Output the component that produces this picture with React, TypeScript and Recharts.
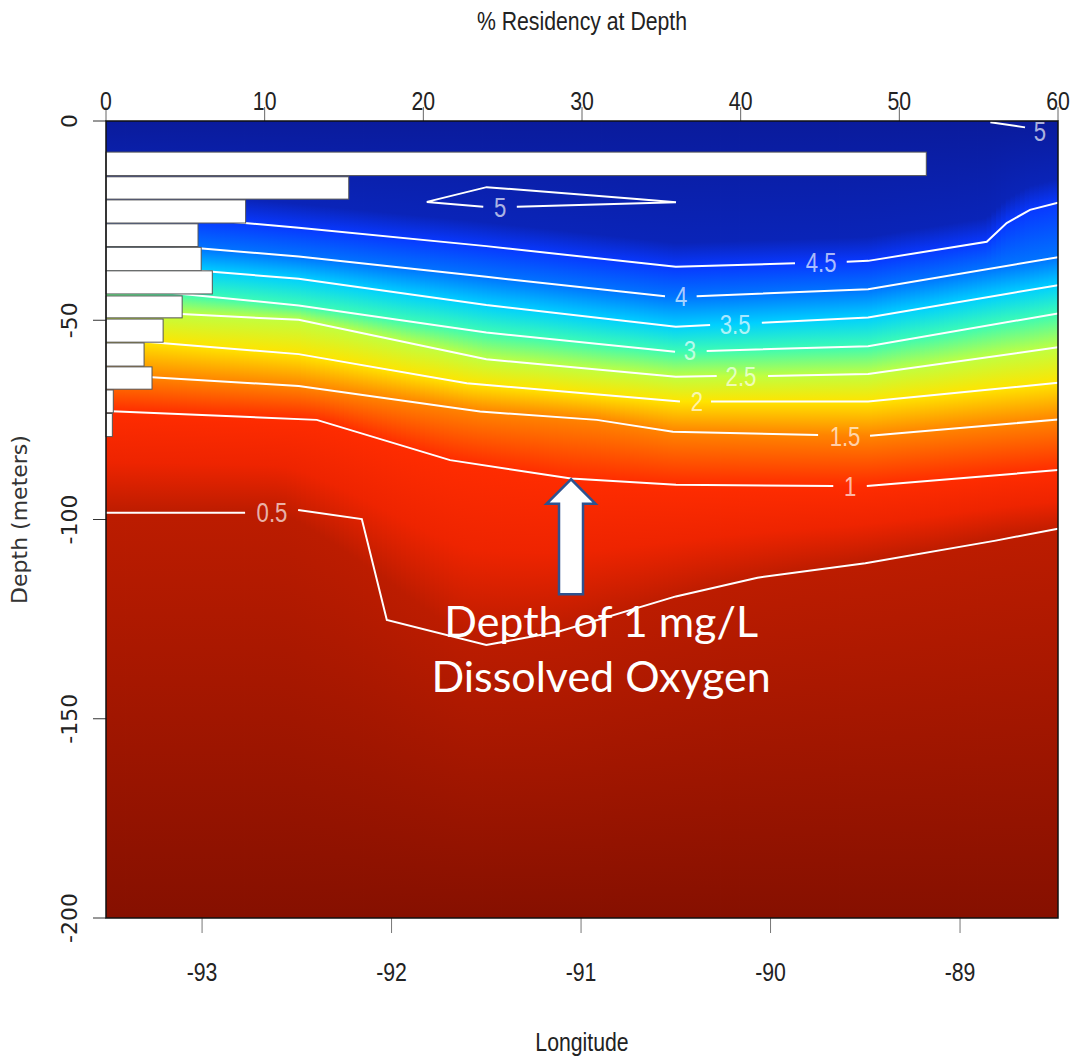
import React from 'react';
import { ComposedChart, XAxis, YAxis, Line, ReferenceArea, ReferenceDot, Label } from 'recharts';

type P = [number, number | null];

// ---------- axes ----------
const lonDomain: [number, number] = [-93.507, -88.483];
const depthDomain: [number, number] = [-200, 0];
const pctDomain: [number, number] = [0, 60];
const lonTicks = [-93, -92, -91, -90, -89];
const pctTicks = [0, 10, 20, 30, 40, 50, 60];
const depthTicks = [0, -50, -100, -150, -200];

// ---------- residency histogram (% time per depth bin) ----------
const residencyPct = [51.7, 15.3, 8.8, 5.8, 6.0, 6.7, 4.8, 3.6, 2.4, 2.9, 0.46, 0.4];
const binTop = [-7.8, -14.0, -19.8, -25.8, -31.7, -37.6, -43.9, -49.7, -55.7, -61.7, -67.5, -73.4];
const binBottom = [-13.7, -19.6, -25.6, -31.5, -37.6, -43.4, -49.4, -55.5, -61.5, -67.3, -73.2, -79.2];

// ---------- dissolved oxygen contours [longitude, depth]; null = label gap ----------
const contour5Loop: P[] = [[-91.339, -21.5], [-90.499, -20.4], [-90.706, -19.6], [-91.498, -16.6], [-91.814, -20.3], [-91.516, -21.5]];
const contour5Corner: P[] = [[-88.84, -0.3], [-88.657, -1.6]];
const contour45: P[] = [[-93.507, -22.5], [-92.49, -26.8], [-91.5, -31.4], [-90.5, -36.6], [-89.871, -35.7], [-89.73, null], [-89.598, -35.3], [-89.485, -35.1], [-88.859, -30.3], [-88.754, -25.6], [-88.631, -22.3], [-88.483, -20.5]];
const contour4: P[] = [[-93.507, -30.0], [-92.49, -34.0], [-91.5, -39.1], [-90.557, -44.0], [-90.47, null], [-90.39, -44.0], [-89.485, -42.2], [-88.483, -34.2]];
const contour35: P[] = [[-93.507, -35.7], [-92.49, -39.6], [-91.5, -46.2], [-90.5, -51.6], [-90.319, -51.2], [-90.18, null], [-90.046, -50.6], [-89.485, -49.3], [-88.483, -41.2]];
const contour3: P[] = [[-93.507, -41.5], [-92.49, -46.3], [-91.5, -53.1], [-90.504, -57.9], [-90.42, null], [-90.337, -57.7], [-89.485, -56.5], [-88.483, -48.3]];
const contour25: P[] = [[-93.507, -47.5], [-92.49, -49.9], [-91.5, -59.8], [-90.5, -64.2], [-90.284, -64.0], [-90.15, null], [-90.013, -64.0], [-89.485, -63.5], [-88.483, -56.8]];
const contour2: P[] = [[-93.507, -54.6], [-92.49, -58.5], [-91.603, -65.8], [-90.478, -70.4], [-90.39, null], [-90.314, -70.4], [-89.485, -70.4], [-88.483, -65.7]];
const contour15: P[] = [[-93.507, -63.6], [-92.49, -66.5], [-91.533, -72.9], [-90.917, -75.0], [-90.515, -78.0], [-89.749, -78.8], [-89.61, null], [-89.475, -79.0], [-88.483, -74.9]];
const contour1: P[] = [[-93.507, -72.8], [-92.395, -75.0], [-91.691, -85.1], [-91.053, -89.7], [-90.499, -91.3], [-89.669, -91.6], [-89.58, null], [-89.492, -91.6], [-88.483, -87.6]];
const contour05: P[] = [[-93.507, -98.3], [-92.773, -98.3], [-92.63, null], [-92.493, -97.6], [-92.157, -99.9], [-92.025, -125.2], [-91.5, -131.5], [-91.116, -128.1], [-90.5, -119.3], [-90.069, -114.6], [-89.5, -111.0], [-88.812, -105.3], [-88.483, -102.3]];

const contourLabels = [
  { lon: -91.427, depth: -21.6, text: '5' },
  { lon: -88.578, depth: -2.6, text: '5' },
  { lon: -89.733, depth: -35.4, text: '4.5' },
  { lon: -90.472, depth: -43.9, text: '4' },
  { lon: -90.187, depth: -50.9, text: '3.5' },
  { lon: -90.425, depth: -57.6, text: '3' },
  { lon: -90.156, depth: -64.1, text: '2.5' },
  { lon: -90.388, depth: -70.3, text: '2' },
  { lon: -89.607, depth: -79.0, text: '1.5' },
  { lon: -89.58, depth: -91.6, text: '1' },
  { lon: -92.631, depth: -98.2, text: '0.5' },
];

// colour of the field at each contour level (reversed "jet" palette)
const surfaceColor = '#0a1b9c';
const upperBlue = '#0a24b8';
const lowRed = '#ee2400';
const bottomColor = '#861000';
const levelFills: { pts: P[]; color: string; smooth: number }[] = [
  { pts: contour45, color: '#0838ff', smooth: 0 },
  { pts: contour4, color: '#0074ff', smooth: 0 },
  { pts: contour35, color: '#00d0ff', smooth: 0 },
  { pts: contour3, color: '#3cfcb4', smooth: 0 },
  { pts: contour25, color: '#c0ff40', smooth: 0 },
  { pts: contour2, color: '#ffe400', smooth: 0 },
  { pts: contour15, color: '#ff8400', smooth: 0 },
  { pts: contour1, color: '#ff2c00', smooth: 0.1 },
  { pts: contour05, color: '#bc1c00', smooth: 0.45 },
];

// annotation
const arrowTip = { lon: -91.053, depth: -89.9 };
const note = { lon: -90.894, depth: -129.5, lines: ['Depth of 1 mg/L', 'Dissolved Oxygen'] };

const HELV = "'Liberation Sans', Arial, sans-serif";
const DEJAVU = "'DejaVu Sans', Verdana, sans-serif";

const toData = (pts: P[]) => pts.map(([lon, depth]) => ({ lon, depth }));
const residencyData = residencyPct.map((v, i) => ({ pct: v, depth: binTop[i] }));

function depthAt(pts: P[], lon: number): number {
  const p = pts.filter((d) => d[1] !== null) as [number, number][];
  if (lon <= p[0][0]) return p[0][1];
  for (let i = 1; i < p.length; i++) {
    if (lon <= p[i][0]) {
      const t = (lon - p[i - 1][0]) / (p[i][0] - p[i - 1][0]);
      return p[i - 1][1] + t * (p[i][1] - p[i - 1][1]);
    }
  }
  return p[p.length - 1][1];
}
// rendering-only softening of the colour field across longitude
function smoothDepthAt(pts: P[], lon: number, w: number): number {
  if (w <= 0) return depthAt(pts, lon);
  let s = 0;
  const n = 21;
  for (let k = 0; k < n; k++) {
    const l = Math.max(lonDomain[0], Math.min(lonDomain[1], lon - w + (2 * w * k) / (n - 1)));
    s += depthAt(pts, l);
  }
  return s / n;
}

const clamp01 = (v: number) => Math.max(0, Math.min(1, v));

// background field drawn as narrow vertical strips (rendering resolution only)
const STRIPS = 200;
const strips = Array.from({ length: STRIPS }, (_, i) => {
  const span = lonDomain[1] - lonDomain[0];
  const a = Math.max(lonDomain[0], lonDomain[0] + (span * i) / STRIPS);
  const b = Math.min(lonDomain[1], lonDomain[0] + (span * (i + 1)) / STRIPS);
  const mid = (a + b) / 2;
  const d45 = depthAt(contour45, mid);
  const levelStops = levelFills.map((l) => ({ off: clamp01(-smoothDepthAt(l.pts, mid, l.smooth) / 200), color: l.color }));
  const d1 = levelStops[levelStops.length - 2].off;
  const d05 = levelStops[levelStops.length - 1].off;
  const stops = [
    { off: 0, color: surfaceColor },
    { off: clamp01((-d45 - 6) / 200), color: upperBlue },
    ...levelStops.slice(0, -1),
    { off: (d1 + d05) / 2, color: lowRed },
    levelStops[levelStops.length - 1],
    { off: 1, color: bottomColor },
  ];
  return { a, b, stops, last: i === STRIPS - 1 };
});

const makeStrip = (id: string, stops: { off: number; color: string }[], last: boolean) => (p: any) => (
  <g>
    <defs>
      <linearGradient id={id} x1="0" y1="0" x2="0" y2="1">
        {stops.map((s, k) => (
          <stop key={k} offset={s.off} stopColor={s.color} />
        ))}
      </linearGradient>
    </defs>
    <rect x={p.x} y={p.y} width={p.width + (last ? 0 : 0.9)} height={p.height} fill={`url(#${id})`} />
  </g>
);

// condensed-looking text (R / Helvetica output was horizontally squeezed)
const Narrow = ({ x, y, dy, size, fill, opacity, sx, children }: any) => (
  <text
    transform={`translate(${x} ${y}) scale(${sx ?? 0.85} 1)`}
    x={0}
    y={0}
    dy={dy ?? 0}
    textAnchor="middle"
    fontFamily={HELV}
    fontSize={size ?? 25}
    fill={fill ?? '#222'}
    fillOpacity={opacity ?? 1}
  >
    {children}
  </text>
);

const TopTick = (p: any) => <Narrow x={p.x} y={p.y} dy={3}>{p.payload.value}</Narrow>;
const BottomTick = (p: any) => <Narrow x={p.x} y={p.y} dy="0.72em">{p.payload.value}</Narrow>;
const LeftTick = (p: any) => (
  <text x={p.x} y={p.y} dy="0.36em" transform={`rotate(-90 ${p.x} ${p.y})`} textAnchor="middle" fontFamily={DEJAVU} fontSize={22} fill="#222">
    {p.payload.value}
  </text>
);

const ArrowShape = (p: any) => {
  const { cx, cy } = p;
  const pts = [[0, 0], [24.5, 24.5], [12, 24.5], [12, 115], [-12, 115], [-12, 24.5], [-24.5, 24.5]];
  return (
    <polygon
      points={pts.map(([dx, dy]) => `${cx + dx},${cy + dy}`).join(' ')}
      fill="#ffffff"
      stroke="#2f528f"
      strokeWidth={2.5}
    />
  );
};

const NoteShape = (p: any) => (
  <text x={p.cx} y={p.cy} textAnchor="middle" fontFamily="Lato, 'Open Sans', sans-serif" fontSize={43} fill="#ffffff">
    <tspan x={p.cx} dy="0">{note.lines[0]}</tspan>
    <tspan x={p.cx} dy="55">{note.lines[1]}</tspan>
  </text>
);

const contourLines: P[][] = [contour5Loop, contour5Corner, contour45, contour4, contour35, contour3, contour25, contour2, contour15, contour1, contour05];

export default function App() {
  return (
    <div style={{ position: 'absolute', left: 0, top: 0, width: 1073, height: 1060 }}>
      <ComposedChart width={1073} height={1060} margin={{ top: 0, right: 15, bottom: 0, left: 0 }}>
        <XAxis
          xAxisId="lon"
          type="number"
          dataKey="lon"
          domain={lonDomain}
          allowDataOverflow
          ticks={lonTicks}
          interval={0}
          orientation="bottom"
          height={142}
          tickSize={15}
          tickMargin={30}
          axisLine={false}
          tickLine={{ stroke: '#777', strokeWidth: 1 }}
          tick={<BottomTick />}
        >
          <Label
            content={(props: any) => {
              const vb = props.viewBox;
              return <Narrow x={vb.x + vb.width / 2} y={1051}>Longitude</Narrow>;
            }}
          />
        </XAxis>
        <XAxis
          xAxisId="pct"
          type="number"
          dataKey="pct"
          domain={pctDomain}
          allowDataOverflow
          ticks={pctTicks}
          interval={0}
          orientation="top"
          height={121}
          tickSize={14}
          tickMargin={0}
          axisLine={false}
          tickLine={{ stroke: '#666', strokeWidth: 1 }}
          tick={<TopTick />}
        >
          <Label
            content={(props: any) => {
              const vb = props.viewBox;
              return <Narrow x={vb.x + vb.width / 2} y={30}>% Residency at Depth</Narrow>;
            }}
          />
        </XAxis>
        <YAxis
          yAxisId="depth"
          type="number"
          domain={depthDomain}
          allowDataOverflow
          ticks={depthTicks}
          interval={0}
          width={106}
          tickSize={13}
          tickMargin={24}
          axisLine={false}
          tickLine={{ stroke: '#333', strokeWidth: 1 }}
          tick={<LeftTick />}
        >
          <Label
            content={(props: any) => {
              const vb = props.viewBox;
              const cx = 19;
              const cy = vb.y + vb.height / 2;
              return (
                <text x={cx} y={cy} dy="0.36em" transform={`rotate(-90 ${cx} ${cy})`} textAnchor="middle" fontFamily={DEJAVU} fontSize={22} fill="#333">
                  Depth (meters)
                </text>
              );
            }}
          />
        </YAxis>

        {strips.map((s, i) => (
          <ReferenceArea
            key={`s${i}`}
            xAxisId="lon"
            yAxisId="depth"
            x1={s.a}
            x2={s.b}
            y1={depthDomain[0]}
            y2={depthDomain[1]}
            zIndex={50}
            shape={makeStrip(`grad${i}`, s.stops, s.last)}
          />
        ))}

        {contourLines.map((pts, i) => (
          <Line
            key={`c${i}`}
            xAxisId="lon"
            yAxisId="depth"
            data={toData(pts)}
            dataKey="depth"
            type="linear"
            stroke="#ffffff"
            strokeWidth={2}
            dot={false}
            activeDot={false}
            connectNulls={false}
            isAnimationActive={false}
            zIndex={400}
          />
        ))}

        {/* residency series bound to the top axis (its bars are drawn below) */}
        <Line
          xAxisId="pct"
          yAxisId="depth"
          data={residencyData}
          dataKey="depth"
          stroke="none"
          dot={false}
          activeDot={false}
          isAnimationActive={false}
          legendType="none"
        />

        {contourLabels.map((l, i) => (
          <ReferenceDot
            key={`l${i}`}
            xAxisId="lon"
            yAxisId="depth"
            x={l.lon}
            y={l.depth}
            zIndex={450}
            shape={(p: any) => (
              <Narrow x={p.cx} y={p.cy} dy="0.36em" size={27} sx={0.82} fill="#ffffff" opacity={0.68}>
                {l.text}
              </Narrow>
            )}
          />
        ))}

        {residencyPct.map((v, i) => (
          <ReferenceArea
            key={`b${i}`}
            xAxisId="pct"
            yAxisId="depth"
            x1={0}
            x2={v}
            y1={binBottom[i]}
            y2={binTop[i]}
            zIndex={700}
            shape={(p: any) => (
              <rect x={p.x} y={p.y} width={p.width} height={p.height} fill="#ffffff" stroke="#555" strokeWidth={1} />
            )}
          />
        ))}

        <ReferenceArea
          xAxisId="lon"
          yAxisId="depth"
          x1={lonDomain[0]}
          x2={lonDomain[1]}
          y1={depthDomain[0]}
          y2={depthDomain[1]}
          zIndex={750}
          shape={(p: any) => (
            <rect x={p.x} y={p.y} width={p.width} height={p.height} fill="none" stroke="#111" strokeWidth={1.5} />
          )}
        />

        <ReferenceDot xAxisId="lon" yAxisId="depth" x={arrowTip.lon} y={arrowTip.depth} zIndex={800} shape={ArrowShape} />
        <ReferenceDot xAxisId="lon" yAxisId="depth" x={note.lon} y={note.depth} zIndex={850} shape={NoteShape} />
      </ComposedChart>
    </div>
  );
}
